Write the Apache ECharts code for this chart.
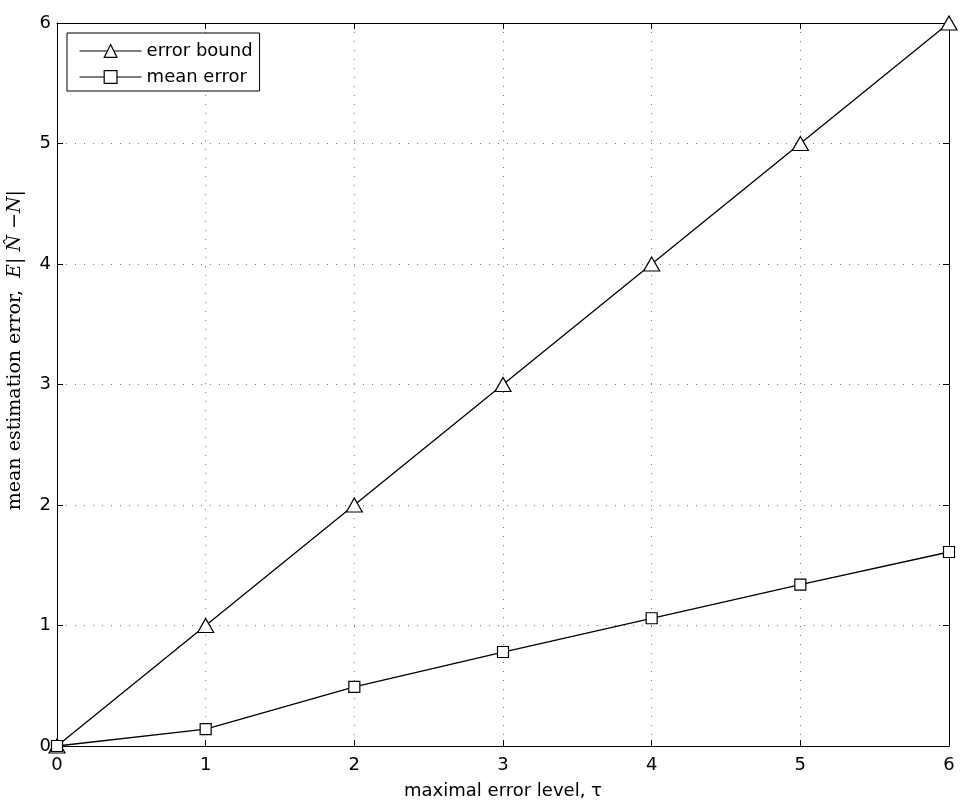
<!DOCTYPE html>
<html>
<head>
<meta charset="utf-8">
<script src="https://cdn.jsdelivr.net/npm/echarts@6/dist/echarts.min.js"></script>
<style>html,body{margin:0;padding:0;background:#fff}#c{width:969px;height:807px}</style>
</head>
<body>
<div id="c"></div>
<script>
var xValues = [0, 1, 2, 3, 4, 5, 6];
var errorBound = [0, 1, 2, 3, 4, 5, 6];
var meanError = [0, 0.14, 0.49, 0.78, 1.06, 1.34, 1.61];
var xTicks = [0, 1, 2, 3, 4, 5, 6];
var yTicks = [0, 1, 2, 3, 4, 5, 6];

function pairs(xs, ys) { return xs.map(function (x, i) { return [x, ys[i]]; }); }

var chart = echarts.init(document.getElementById('c'));
var font = 'DejaVu Sans, Liberation Sans, Arial, sans-serif';
var serif = 'DejaVu Serif, Liberation Serif, serif';
var gridLine = { show: true, lineStyle: { color: '#777', type: [1, 8], width: 1 } };
var tick = { show: true, inside: true, length: 6, lineStyle: { color: '#000' } };
var axisLine = { show: true, onZero: false, lineStyle: { color: '#000', width: 1 } };

chart.setOption({
  animation: false,
  backgroundColor: '#fff',
  grid: { left: 57, right: 20, top: 23, bottom: 61, containLabel: false },
  legend: {
    left: 67, top: 33, orient: 'vertical',
    data: ['error bound', 'mean error'],
    backgroundColor: '#fff', borderColor: '#000', borderWidth: 1,
    padding: [9, 7, 5, 12], itemGap: 8, itemWidth: 62, itemHeight: 16,
    lineStyle: { width: 1.2, color: '#000' },
    itemStyle: { borderWidth: 1.2, borderColor: '#000' },
    textStyle: { fontFamily: font, fontSize: 18, lineHeight: 16, color: '#000' }
  },
  graphic: [{
    type: 'text', left: 6, top: 190, rotation: Math.PI / 2,
    style: {
      text: '{t|mean estimation error,  }{i|E}{t|| }{i|N̂}{t| −}{i|N}{t||}',
      rich: {
        t: { fontFamily: serif, fontSize: 19, fill: '#000' },
        i: { fontFamily: serif, fontSize: 19, fontStyle: 'italic', fill: '#000' }
      }
    }
  }],
  xAxis: [{
    type: 'value', min: 0, max: 6, interval: 1, position: 'bottom',
    axisLine: axisLine, axisTick: tick, splitLine: gridLine,
    axisLabel: { color: '#000', fontFamily: font, fontSize: 18, margin: 10 },
    name: 'maximal error level, τ', nameLocation: 'middle', nameGap: 36,
    nameTextStyle: { color: '#000', fontFamily: font, fontSize: 18 }
  }, {
    type: 'value', min: 0, max: 6, interval: 1, position: 'top',
    axisLine: axisLine, axisTick: tick, splitLine: { show: false },
    axisLabel: { show: false }
  }],
  yAxis: [{
    type: 'value', min: 0, max: 6, interval: 1, position: 'left',
    axisLine: axisLine, axisTick: tick, splitLine: gridLine,
    axisLabel: { color: '#000', fontFamily: font, fontSize: 18, margin: 6 }
  }, {
    type: 'value', min: 0, max: 6, interval: 1, position: 'right',
    axisLine: axisLine, axisTick: tick, splitLine: { show: false },
    axisLabel: { show: false }
  }],
  series: [{
    name: 'error bound', type: 'line', data: pairs(xValues, errorBound),
    symbol: 'triangle', symbolSize: [16, 14], showAllSymbol: true,
    lineStyle: { color: '#000', width: 1.3 },
    itemStyle: { color: '#fff', borderColor: '#000', borderWidth: 1.2 },
    z: 3
  }, {
    name: 'mean error', type: 'line', data: pairs(xValues, meanError),
    symbol: 'rect', symbolSize: 11, showAllSymbol: true,
    lineStyle: { color: '#000', width: 1.3 },
    itemStyle: { color: '#fff', borderColor: '#000', borderWidth: 1.2 },
    z: 3
  }]
});
</script>
</body>
</html>
